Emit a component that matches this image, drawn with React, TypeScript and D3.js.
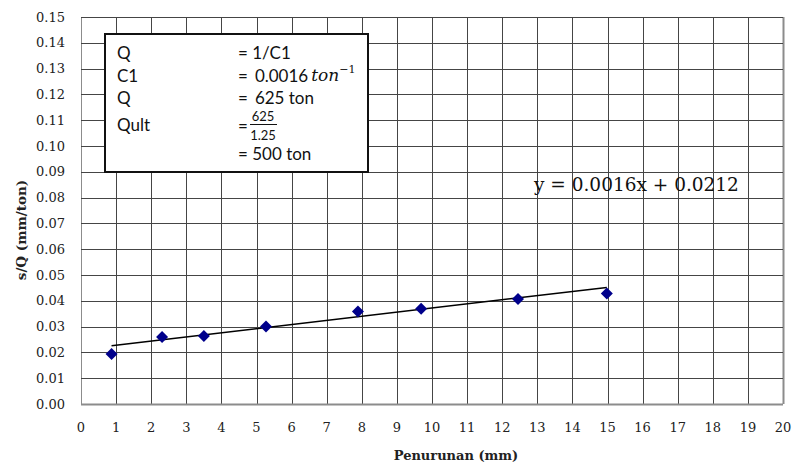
import React from "react";
import * as d3 from "d3";

// Penurunan (mm) vs s/Q (mm/ton)
const settlement = [0.87, 2.31, 3.5, 5.27, 7.89, 9.69, 12.45, 14.98];
const sOverQ = [0.0194, 0.026, 0.0264, 0.03, 0.0359, 0.0369, 0.0407, 0.0428];

// Linear trend: y = slope * x + intercept
const slope = 0.0016;
const intercept = 0.0212;

const xTicks = d3.range(0, 21, 1);
const yTicks = d3.range(0, 0.1501, 0.01);

const W = 793;
const H = 465;
const left = 81;
const right = 783;
const top = 17;
const bottom = 404;

const serif = "'DejaVu Serif', serif";
const sans = "Lato, 'Open Sans', sans-serif";

export default function App() {
  const x = d3.scaleLinear().domain([0, 20]).range([left, right]);
  const y = d3.scaleLinear().domain([0, 0.15]).range([bottom, top]);

  const xMin = d3.min(settlement) as number;
  const xMax = d3.max(settlement) as number;
  const trend = d3
    .line<number>()
    .x((d) => x(d))
    .y((d) => y(slope * d + intercept))([xMin, xMax]);

  const diamond = (cx: number, cy: number, r: number) =>
    `M${cx},${cy - r}L${cx + r},${cy}L${cx},${cy + r}L${cx - r},${cy}Z`;

  const boxX = 105;
  const boxY = 34;
  const col1 = 117;
  const col2 = 238;

  return (
    <svg
      width={W}
      height={H}
      style={{ position: "absolute", left: 0, top: 0, background: "#fff" }}
    >
      <rect x={0} y={0} width={W} height={H} fill="#fff" />

      {/* grid */}
      <g stroke="#454545" strokeWidth={1}>
        {xTicks.map((t) => (
          <line
            key={"gx" + t}
            x1={Math.round(x(t)) + 0.5}
            x2={Math.round(x(t)) + 0.5}
            y1={top}
            y2={bottom}
            stroke={t === 0 || t === 20 ? "#8c8c8c" : "#454545"}
            strokeWidth={t === 20 ? 2 : 1}
          />
        ))}
        {yTicks.map((t, i) => (
          <line
            key={"gy" + i}
            x1={left}
            x2={right}
            y1={Math.round(y(t)) + 0.5}
            y2={Math.round(y(t)) + 0.5}
            stroke={i === 0 ? "#8c8c8c" : "#454545"}
            strokeWidth={i === 0 ? 2 : 1}
          />
        ))}
      </g>

      {/* tick labels */}
      <g fontFamily={serif} fontSize={13} fill="#222">
        {yTicks.map((t, i) => (
          <text
            key={"ty" + i}
            x={65}
            y={y(t)}
            textAnchor="end"
            dominantBaseline="central"
          >
            {d3.format(".2f")(t)}
          </text>
        ))}
        {xTicks.map((t) => (
          <text
            key={"tx" + t}
            x={x(t)}
            y={427}
            textAnchor="middle"
            dominantBaseline="central"
          >
            {t}
          </text>
        ))}
      </g>

      {/* axis titles */}
      <text
        x={456}
        y={455}
        textAnchor="middle"
        dominantBaseline="central"
        fontFamily={serif}
        fontWeight="bold"
        fontSize={13}
        fill="#222"
      >
        Penurunan (mm)
      </text>
      <text
        transform={`translate(21,230) rotate(-90)`}
        textAnchor="middle"
        dominantBaseline="central"
        fontFamily={serif}
        fontWeight="bold"
        fontSize={13.5}
        fill="#222"
      >
        s/Q (mm/ton)
      </text>

      {/* trend line */}
      <path d={trend ?? ""} fill="none" stroke="#000" strokeWidth={1.5} />

      {/* data points */}
      <g fill="#00008b">
        {settlement.map((s, i) => (
          <path key={"p" + i} d={diamond(x(s), y(sOverQ[i]), 6)} />
        ))}
      </g>

      {/* trend equation */}
      <text
        x={534}
        y={184}
        dominantBaseline="central"
        fontFamily={serif}
        fontSize={18.5}
        fill="#111"
      >
        y = 0.0016x + 0.0212
      </text>

      {/* calculation box */}
      <rect
        x={boxX}
        y={boxY}
        width={263}
        height={138}
        fill="#fff"
        stroke="#111"
        strokeWidth={2}
      />
      <g fontFamily={sans} fontSize={17} fill="#111" dominantBaseline="central">
        <text x={col1} y={52}>Q</text>
        <text x={col2} y={52}>= 1/C1</text>
        <text x={col1} y={75}>C1</text>
        <text x={col2} y={75}>
          =
          <tspan dx={7}>0.0016</tspan>
          <tspan fontFamily={serif} fontStyle="italic" dx={3}>
            ton
          </tspan>
          <tspan fontFamily={serif} fontSize={11} dy={-6}>
            −1
          </tspan>
        </text>
        <text x={col1} y={97}>Q</text>
        <text x={col2} y={97}>
          =<tspan dx={7}>625 ton</tspan>
        </text>
        <text x={col1} y={124}>Qult</text>
        <text x={col2} y={125}>=</text>
        <text x={263} y={116} fontSize={13} textAnchor="middle">625</text>
        <line x1={250} x2={277} y1={124.5} y2={124.5} stroke="#111" strokeWidth={1} />
        <text x={263} y={135} fontSize={13} textAnchor="middle">1.25</text>
        <text x={col2} y={153}>= 500 ton</text>
      </g>
    </svg>
  );
}
